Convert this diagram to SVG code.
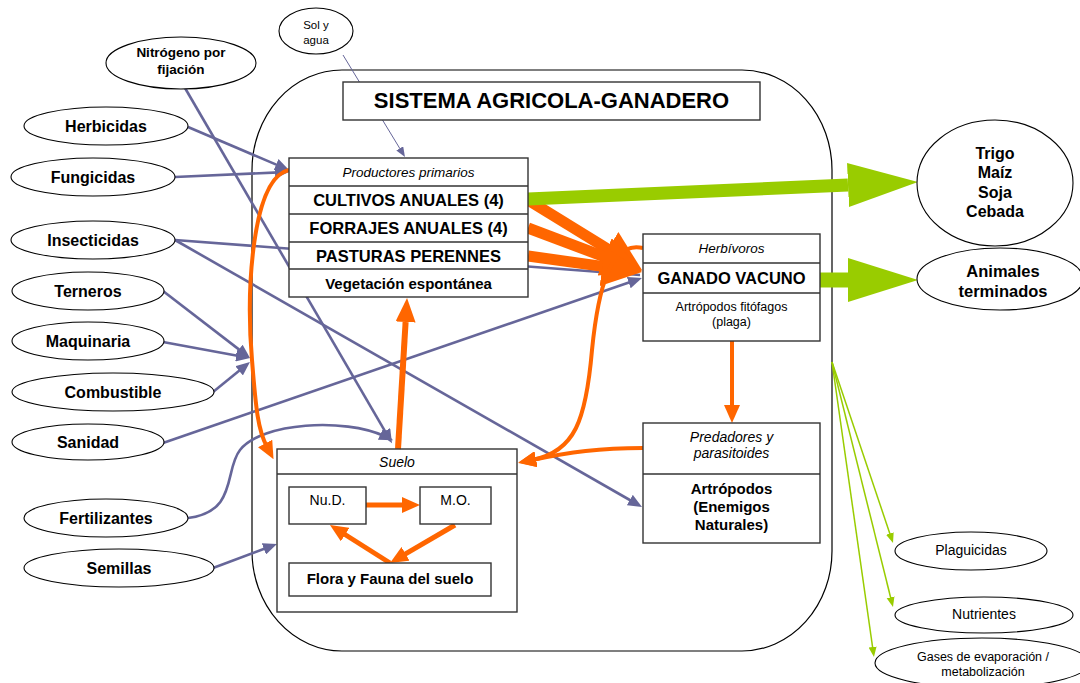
<svg xmlns="http://www.w3.org/2000/svg" width="1080" height="683" viewBox="0 0 1080 683">
<style>
text{font-family:"Liberation Sans",Arial,sans-serif;fill:#000;text-anchor:middle}
.b{font-weight:bold}
.i{font-style:italic}
.el{fill:#fff;stroke:#000;stroke-width:1.1}
.bx{fill:#fff;stroke:#333;stroke-width:1.4}
.sep{stroke:#333;stroke-width:1.4}
.bl{fill:none;stroke:#666699;stroke-width:2.6}
.or{fill:none;stroke:#ff6600}
.gr{fill:none;stroke:#99cc00}
</style>
<defs>
<marker id="ab" viewBox="0 0 14 12" refX="4" refY="6" markerWidth="14" markerHeight="12" markerUnits="userSpaceOnUse" orient="auto"><path d="M0,0L14,6L0,12z" fill="#666699"/></marker>
<marker id="abs" viewBox="0 0 10 8" refX="2" refY="4" markerWidth="10" markerHeight="8" markerUnits="userSpaceOnUse" orient="auto"><path d="M0,0L10,4L0,8z" fill="#666699"/></marker>
<marker id="ao" viewBox="0 0 18 16" refX="4" refY="8" markerWidth="18" markerHeight="16" markerUnits="userSpaceOnUse" orient="auto"><path d="M0,0L18,8L0,16z" fill="#ff6600"/></marker>
<marker id="aoM" viewBox="0 0 24 20" refX="0" refY="10" markerWidth="24" markerHeight="20" markerUnits="userSpaceOnUse" orient="auto"><path d="M0,0L24,10L0,20z" fill="#ff6600"/></marker>
<marker id="aoL" viewBox="0 0 40 40" refX="0" refY="20" markerWidth="40" markerHeight="40" markerUnits="userSpaceOnUse" orient="auto"><path d="M0,0L40,20L0,40z" fill="#ff6600"/></marker>
<marker id="ag" viewBox="0 0 70 44" refX="0" refY="22" markerWidth="70" markerHeight="44" markerUnits="userSpaceOnUse" orient="auto"><path d="M0,0L70,22L0,44z" fill="#99cc00"/></marker>
<marker id="agS" viewBox="0 0 10 10" refX="3" refY="5" markerWidth="10" markerHeight="10" markerUnits="userSpaceOnUse" orient="auto"><path d="M0,1L10,5L0,9z" fill="#99cc00"/></marker>
</defs>
<rect width="1080" height="683" fill="#fff"/>
<g id="sistema"><rect x="252" y="70" width="580" height="581" rx="90" ry="100" fill="none" stroke="#000" stroke-width="1.2"/></g>
<g id="connectors">
<line x1="343" y1="55" x2="400.8" y2="150.1" stroke="#666699" stroke-width="1" marker-end="url(#abs)"/>
<line class="bl" x1="185" y1="88" x2="387" y2="434.6" stroke-width="4" marker-end="url(#ab)"/>
<line class="bl" x1="188" y1="127" x2="279.8" y2="166.1" marker-end="url(#ab)"/>
<line class="bl" x1="175" y1="177" x2="279" y2="172.4" marker-end="url(#ab)"/>
<line class="bl" x1="175" y1="240" x2="640" y2="275"/>
<line class="bl" x1="175" y1="240" x2="633.3" y2="502" marker-end="url(#ab)"/>
<line class="bl" x1="163" y1="291" x2="242.1" y2="351.9" marker-end="url(#ab)"/>
<line class="bl" x1="163" y1="342" x2="240.2" y2="356.2" marker-end="url(#ab)"/>
<line class="bl" x1="213" y1="392" x2="242.2" y2="368.3" marker-end="url(#ab)"/>
<line class="bl" x1="163" y1="443" x2="632.5" y2="281.3" marker-end="url(#ab)"/>
<line class="bl" x1="213" y1="568" x2="267.6" y2="547.5" marker-end="url(#ab)"/>
<path class="bl" d="M188,518C238,512 224,470 240,450C262,422 345,418 384,436" marker-end="url(#ab)"/>
<line class="or" x1="528" y1="200" x2="607.9" y2="249.1" stroke-width="11" marker-end="url(#aoL)"/>
<line class="or" x1="528" y1="228" x2="604.6" y2="256.9" stroke-width="11" marker-end="url(#aoL)"/>
<line class="or" x1="528" y1="256" x2="602.4" y2="266.4" stroke-width="11" marker-end="url(#aoL)"/>
<line class="or" x1="398" y1="449" x2="405.6" y2="322" stroke-width="6" marker-end="url(#aoM)"/>
<path class="or" d="M289,170C252,178 246,290 252,360C256,410 258,430 267,447" stroke-width="4" marker-end="url(#ao)"/>
<path class="or" d="M643,248C610,240 598,290 592,350C586,420 575,452 532,460" stroke-width="4" marker-end="url(#ao)"/>
<path class="or" d="M643,448C600,448 570,452 532,460" stroke-width="4" marker-end="url(#ao)"/>
<line class="or" x1="732" y1="341" x2="732" y2="409" stroke-width="4" marker-end="url(#ao)"/>
<line class="or" x1="366" y1="505" x2="406" y2="505" stroke-width="5" marker-end="url(#ao)"/>
<line class="or" x1="455" y1="525" x2="402.1" y2="555.9" stroke-width="5" marker-end="url(#ao)"/>
<line class="or" x1="390" y1="563" x2="341.8" y2="532.5" stroke-width="5" marker-end="url(#ao)"/>
<line class="gr" x1="528" y1="199" x2="848" y2="185" stroke-width="13" marker-end="url(#ag)"/>
<line class="gr" x1="820" y1="280" x2="848" y2="280" stroke-width="15" marker-end="url(#ag)"/>
<line class="gr" x1="832" y1="362" x2="890.8" y2="536.4" stroke-width="1.5" marker-end="url(#agS)"/>
<line class="gr" x1="832" y1="362" x2="891.3" y2="600.2" stroke-width="1.5" marker-end="url(#agS)"/>
<line class="gr" x1="832" y1="362" x2="873" y2="650" stroke-width="1.5" marker-end="url(#agS)"/>
</g>
<g id="titulo"><rect class="bx" x="343" y="82" width="417" height="38"/><text class="b" x="551.5" y="108" font-size="22">SISTEMA AGRICOLA-GANADERO</text></g>
<g id="sol"><ellipse class="el" cx="316" cy="31" rx="37" ry="23"/><text x="316" y="29" font-size="11.5">Sol y</text><text x="316" y="44" font-size="11.5">agua</text></g>
<g id="nitrogeno"><ellipse class="el" cx="181" cy="63" rx="75" ry="26"/><text class="b" x="181" y="57" font-size="13.5">Nitrógeno por</text><text class="b" x="181" y="74" font-size="13.5">fijación</text></g>
<g id="herbicidas"><ellipse class="el" cx="106" cy="126" rx="82" ry="19"/><text class="b" x="106" y="132" font-size="16">Herbicidas</text></g>
<g id="fungicidas"><ellipse class="el" cx="93" cy="177" rx="82" ry="19"/><text class="b" x="93" y="183" font-size="16">Fungicidas</text></g>
<g id="insecticidas"><ellipse class="el" cx="93" cy="240" rx="82" ry="19"/><text class="b" x="93" y="246" font-size="16">Insecticidas</text></g>
<g id="terneros"><ellipse class="el" cx="88" cy="291" rx="76" ry="19"/><text class="b" x="88" y="297" font-size="16">Terneros</text></g>
<g id="maquinaria"><ellipse class="el" cx="88" cy="341" rx="76" ry="19"/><text class="b" x="88" y="347" font-size="16">Maquinaria</text></g>
<g id="combustible"><ellipse class="el" cx="113" cy="392" rx="101" ry="19"/><text class="b" x="113" y="398" font-size="16">Combustible</text></g>
<g id="sanidad"><ellipse class="el" cx="88" cy="442" rx="76" ry="18"/><text class="b" x="88" y="448" font-size="16">Sanidad</text></g>
<g id="fertilizantes"><ellipse class="el" cx="106" cy="518" rx="82" ry="19"/><text class="b" x="106" y="524" font-size="16">Fertilizantes</text></g>
<g id="semillas"><ellipse class="el" cx="119" cy="568" rx="95" ry="19"/><text class="b" x="119" y="574" font-size="16">Semillas</text></g>
<g id="productores">
<rect class="bx" x="289" y="158" width="239" height="139"/>
<line class="sep" x1="289" y1="186" x2="528" y2="186"/><line class="sep" x1="289" y1="214" x2="528" y2="214"/><line class="sep" x1="289" y1="242" x2="528" y2="242"/><line class="sep" x1="289" y1="269" x2="528" y2="269"/>
<text class="i" x="408.5" y="177" font-size="13.5">Productores primarios</text>
<text class="b" x="408.5" y="206" font-size="16.5">CULTIVOS ANUALES (4)</text>
<text class="b" x="408.5" y="234" font-size="16.5">FORRAJES ANUALES (4)</text>
<text class="b" x="408.5" y="262" font-size="16.5">PASTURAS PERENNES</text>
<text class="b" x="408.5" y="289" font-size="15">Vegetación espontánea</text>
</g>
<g id="herbivoros">
<rect class="bx" x="643" y="234" width="177" height="107"/>
<line class="sep" x1="643" y1="263" x2="820" y2="263"/><line class="sep" x1="643" y1="293" x2="820" y2="293"/>
<text class="i" x="731.5" y="253" font-size="13.5">Herbívoros</text>
<text class="b" x="731.5" y="284" font-size="16.5">GANADO VACUNO</text>
<text x="731.5" y="311" font-size="12.5">Artrópodos fitófagos</text>
<text x="731.5" y="326" font-size="12.5">(plaga)</text>
</g>
<g id="predadores">
<rect class="bx" x="643" y="423" width="177" height="120"/>
<line class="sep" x1="643" y1="474" x2="820" y2="474"/>
<text class="i" x="731.5" y="442" font-size="14">Predadores y</text>
<text class="i" x="731.5" y="458" font-size="14">parasitoides</text>
<text class="b" x="731.5" y="494" font-size="15">Artrópodos</text>
<text class="b" x="731.5" y="512" font-size="15">(Enemigos</text>
<text class="b" x="731.5" y="530" font-size="15">Naturales)</text>
</g>
<g id="suelo">
<rect x="277" y="449" width="240" height="163" fill="none" stroke="#333" stroke-width="1.4"/>
<line class="sep" x1="277" y1="474" x2="517" y2="474"/>
<text class="i" x="397" y="467" font-size="14">Suelo</text>
</g>
<g id="nud"><rect class="bx" x="289" y="487" width="77" height="37"/><text x="327.5" y="505" font-size="14">Nu.D.</text></g>
<g id="mo"><rect class="bx" x="420" y="487" width="71" height="37"/><text x="455.5" y="505" font-size="14">M.O.</text></g>
<g id="flora"><rect class="bx" x="289" y="563" width="202" height="33"/><text class="b" x="390" y="584" font-size="15">Flora y Fauna del suelo</text></g>
<g id="granos"><ellipse class="el" cx="995" cy="183" rx="78" ry="63"/>
<text class="b" x="995" y="159" font-size="16">Trigo</text><text class="b" x="995" y="178" font-size="16">Maíz</text><text class="b" x="995" y="198" font-size="16">Soja</text><text class="b" x="995" y="217" font-size="16">Cebada</text></g>
<g id="animales"><ellipse class="el" cx="1000" cy="279" rx="83" ry="31"/><text class="b" x="1003" y="277" font-size="16.5">Animales</text><text class="b" x="1003" y="297" font-size="16.5">terminados</text></g>
<g id="plaguicidas"><ellipse class="el" cx="971" cy="551" rx="76" ry="19"/><text x="971" y="555" font-size="14">Plaguicidas</text></g>
<g id="nutrientes"><ellipse class="el" cx="984" cy="615" rx="89" ry="18"/><text x="984" y="619" font-size="14">Nutrientes</text></g>
<g id="gases"><ellipse class="el" cx="982" cy="663" rx="107" ry="25"/><text x="983" y="661" font-size="12.5">Gases de evaporación /</text><text x="983" y="676" font-size="12.5">metabolización</text></g>
</svg>
